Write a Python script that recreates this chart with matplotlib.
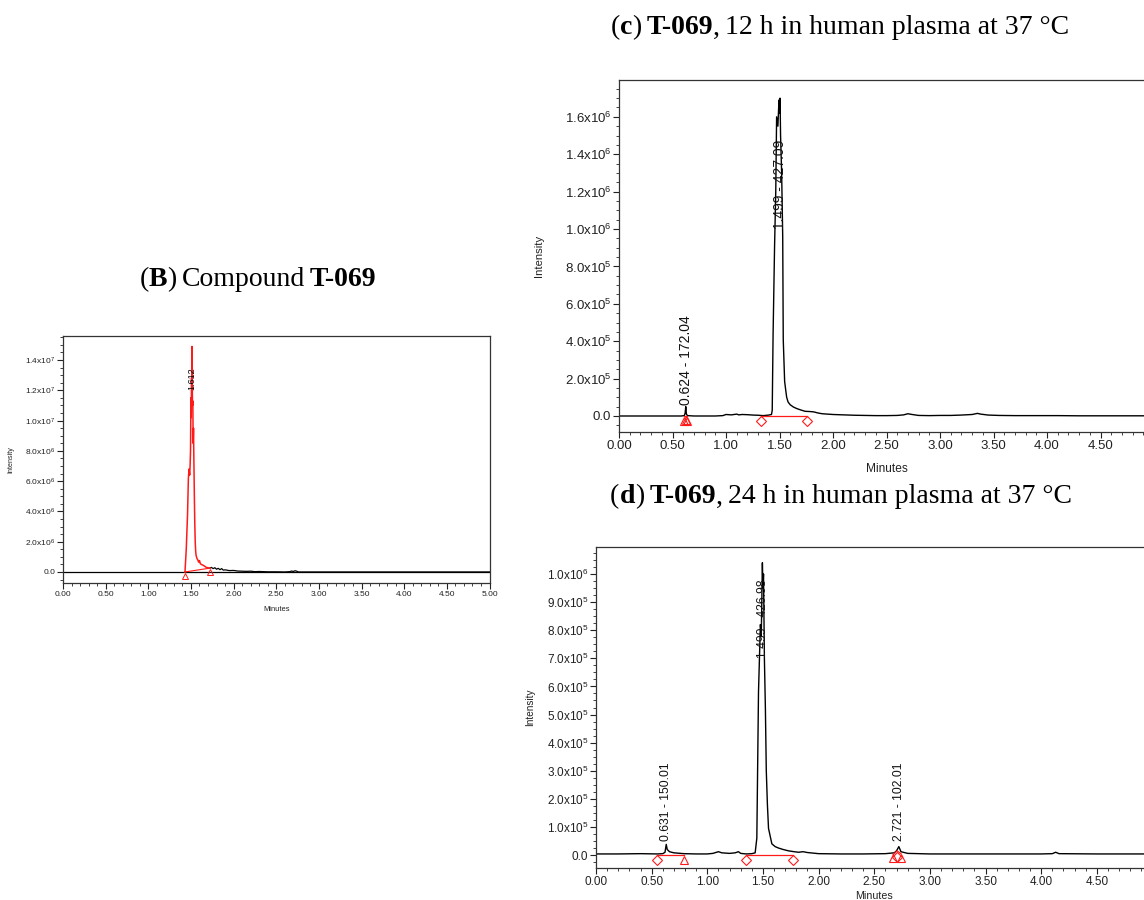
import matplotlib
matplotlib.use("Agg")
import matplotlib.pyplot as plt
from matplotlib.ticker import MultipleLocator, FixedLocator

plt.rcParams['font.family'] = 'Liberation Sans'
plt.rcParams['mathtext.fontset'] = 'custom'
plt.rcParams['mathtext.rm'] = 'Liberation Sans'
plt.rcParams['mathtext.it'] = 'Liberation Sans:italic'
plt.rcParams['mathtext.bf'] = 'Liberation Sans:bold'

W, H = 1144, 900

# ---- (B) compound T-069, intensities in counts ----
b_peak_t = [1.43, 1.445, 1.46, 1.47, 1.478, 1.485, 1.49, 1.495, 1.50, 1.503, 1.507,
            1.51, 1.512, 1.515, 1.518, 1.522, 1.526, 1.53, 1.534, 1.54, 1.545, 1.55,
            1.555, 1.56, 1.57, 1.58, 1.59, 1.60, 1.61, 1.62, 1.64, 1.66, 1.68, 1.70, 1.72]
b_peak_i = [0.0, 1.5e6, 3.8e6, 6.2e6, 6.8e6, 6.4e6, 7.0e6, 8.0e6, 11.5e6, 10.2e6, 12.8e6,
            12.0e6, 14.9e6, 12.5e6, 11.0e6, 11.3e6, 8.5e6, 9.5e6, 7.5e6, 5.0e6, 3.2e6, 2.0e6,
            1.4e6, 1.1e6, 0.9e6, 0.8e6, 0.65e6, 0.75e6, 0.55e6, 0.5e6, 0.45e6, 0.38e6, 0.3e6,
            0.28e6, 0.25e6]
b_tail_t = [1.72, 1.74, 1.76, 1.78, 1.80, 1.82, 1.84, 1.86, 1.88, 1.90, 1.95, 2.00, 2.05,
            2.10, 2.15, 2.20, 2.25, 2.30, 2.40, 2.50, 2.60, 2.66, 2.68, 2.70, 2.72, 2.74,
            2.76, 2.80, 5.00]
b_tail_i = [0.25e6, 0.3e6, 0.22e6, 0.28e6, 0.18e6, 0.24e6, 0.15e6, 0.22e6, 0.12e6, 0.14e6,
            0.09e6, 0.1e6, 0.06e6, 0.05e6, 0.04e6, 0.05e6, 0.02e6, 0.03e6, 0.01e6, 0.01e6,
            0.0, 0.02e6, 0.06e6, 0.03e6, 0.08e6, 0.05e6, 0.0, 0.0, 0.0]
b_base_t = [1.43, 1.72]
b_base_i = [0.0, 0.25e6]
b_tri_t = [1.43, 1.72]
b_tri_i = [-0.3e6, -0.02e6]
b_yticks = [0.0, 2e6, 4e6, 6e6, 8e6, 1.0e7, 1.2e7, 1.4e7]
b_ylabels = ["0.0", "2.0x10$^{6}$", "4.0x10$^{6}$", "6.0x10$^{6}$", "8.0x10$^{6}$",
             "1.0x10$^{7}$", "1.2x10$^{7}$", "1.4x10$^{7}$"]

# ---- (c) 12 h in plasma ----
c_t = [0.00, 0.10, 0.20, 0.30, 0.40, 0.50, 0.58, 0.61, 0.618, 0.624, 0.63, 0.64, 0.70,
       0.80, 0.90, 0.97, 1.00, 1.05, 1.10, 1.12, 1.15, 1.20, 1.25, 1.30, 1.35, 1.40,
       1.425, 1.432, 1.44, 1.454, 1.465, 1.473, 1.485, 1.495, 1.50, 1.505, 1.51, 1.52,
       1.53, 1.535, 1.548, 1.56, 1.567, 1.58, 1.60, 1.63, 1.66, 1.70, 1.74, 1.78, 1.82,
       1.86, 1.90, 1.95, 2.00, 2.10, 2.20, 2.30, 2.40, 2.50, 2.60, 2.66, 2.70, 2.74, 2.80,
       2.90, 3.00, 3.10, 3.20, 3.30, 3.35, 3.38, 3.45, 3.55, 3.70, 3.90, 4.10, 4.30, 4.50,
       4.70, 5.00]
c_i = [0, 0, 0, 0, 0, 0, 0, 2e3, 15e3, 50e3, 10e3, 2e3, 0,
       0, 0, 2e3, 8e3, 6e3, 10e3, 6e3, 8e3, 7e3, 5e3, 4e3, 2e3, 5e3,
       8e3, 30e3, 434e3, 910e3, 1200e3, 1600e3, 1550e3, 1690e3, 1620e3, 1700e3, 1500e3, 1300e3,
       960e3, 410e3, 185e3, 130e3, 100e3, 75e3, 60e3, 48e3, 40e3, 32e3, 25e3, 24e3, 22e3,
       16e3, 12e3, 10e3, 8e3, 6e3, 4e3, 3e3, 2e3, 2e3, 3e3, 6e3, 12e3, 8e3, 3e3,
       2e3, 3e3, 3e3, 5e3, 8e3, 14e3, 10e3, 5e3, 3e3, 2e3, 2e3, 2e3, 1e3, 1e3,
       1e3, 1e3]
c_base_segs = [([0.61, 0.635], [0.0, 0.0]), ([1.326, 1.757], [0.0, 0.0])]
c_tri_t = [0.61, 0.622, 0.635]
c_tri_i = [-25e3, -20e3, -25e3]
c_dia_t = [1.326, 1.757]
c_dia_i = [-28e3, -28e3]
c_peak_labels = [(0.624, 0.06e6, "0.624 - 172.04"), (1.50, 1.0e6, "1.499 - 427.09")]
c_yticks = [0.0, 2e5, 4e5, 6e5, 8e5, 1.0e6, 1.2e6, 1.4e6, 1.6e6]
c_ylabels = ["0.0", "2.0x10$^{5}$", "4.0x10$^{5}$", "6.0x10$^{5}$", "8.0x10$^{5}$",
             "1.0x10$^{6}$", "1.2x10$^{6}$", "1.4x10$^{6}$", "1.6x10$^{6}$"]

# ---- (d) 24 h in plasma ----
d_t = [0.00, 0.20, 0.40, 0.55, 0.60, 0.62, 0.631, 0.64, 0.66, 0.70, 0.79, 0.90, 1.00,
       1.05, 1.10, 1.13, 1.20, 1.25, 1.28, 1.30, 1.35, 1.40, 1.43, 1.445, 1.46, 1.477,
       1.485, 1.495, 1.50, 1.505, 1.513, 1.522, 1.53, 1.54, 1.55, 1.58, 1.61, 1.64, 1.68,
       1.73, 1.78, 1.82, 1.86, 1.90, 2.00, 2.20, 2.40, 2.60, 2.68, 2.70, 2.721, 2.74, 2.80,
       3.00, 3.50, 4.00, 4.10, 4.13, 4.16, 4.50, 5.00]
d_i = [4e3, 4e3, 5e3, 4e3, 5e3, 10e3, 38e3, 20e3, 12e3, 8e3, 5e3, 4e3, 4e3,
       6e3, 12e3, 8e3, 6e3, 8e3, 12e3, 6e3, 4e3, 5e3, 8e3, 60e3, 580e3, 820e3,
       780e3, 1040e3, 950e3, 1000e3, 700e3, 520e3, 300e3, 180e3, 95e3, 40e3, 30e3, 25e3, 20e3,
       15e3, 12e3, 10e3, 12e3, 9e3, 5e3, 4e3, 4e3, 5e3, 8e3, 15e3, 30e3, 12e3, 6e3,
       4e3, 4e3, 4e3, 5e3, 10e3, 5e3, 4e3, 4e3]
d_base_segs = [([0.55, 0.79], [2e3, 2e3]), ([1.35, 1.77], [2e3, 2e3]),
               ([2.67, 2.705, 2.74], [2e3, 15e3, 5e3])]
d_tri_t = [0.79, 2.67, 2.74]
d_tri_i = [-17e3, -12e3, -12e3]
d_dia_t = [0.55, 1.35, 1.77, 2.705]
d_dia_i = [-17e3, -17e3, -17e3, -8e3]
d_peak_labels = [(0.631, 0.5e5, "0.631 - 150.01"), (1.50, 7.0e5, "1.499 - 426.98"),
                 (2.721, 0.5e5, "2.721 - 102.01")]
d_yticks = [0.0, 1e5, 2e5, 3e5, 4e5, 5e5, 6e5, 7e5, 8e5, 9e5, 1.0e6]
d_ylabels = ["0.0", "1.0x10$^{5}$", "2.0x10$^{5}$", "3.0x10$^{5}$", "4.0x10$^{5}$",
             "5.0x10$^{5}$", "6.0x10$^{5}$", "7.0x10$^{5}$", "8.0x10$^{5}$", "9.0x10$^{5}$",
             "1.0x10$^{6}$"]

x_major = [0.0, 0.5, 1.0, 1.5, 2.0, 2.5, 3.0, 3.5, 4.0, 4.5, 5.0]
x_labels = ["0.00", "0.50", "1.00", "1.50", "2.00", "2.50", "3.00", "3.50", "4.00", "4.50", "5.00"]


def px_axes(fig, left, top, right, bottom):
    return fig.add_axes([left / W, 1 - bottom / H, (right - left) / W, (bottom - top) / H])


def style_axes(ax, ylim, yticks, ylabels, fs, ylab_x, xlab_y, n_xlab):
    ax.set_xlim(0, 5.0)
    ax.set_ylim(*ylim)
    ax.xaxis.set_major_locator(FixedLocator(x_major[:n_xlab]))
    ax.set_xticklabels(x_labels[:n_xlab])
    ax.xaxis.set_minor_locator(MultipleLocator(0.1))
    ax.set_yticks(yticks)
    ax.set_yticklabels(ylabels)
    step = yticks[1] - yticks[0]
    ax.yaxis.set_minor_locator(MultipleLocator(step / 4))
    ax.tick_params(which='both', direction='out', colors='#222222', labelsize=fs, pad=1.5)
    ax.tick_params(which='major', length=4, width=0.8)
    ax.tick_params(which='minor', length=2, width=0.6)
    for s in ax.spines.values():
        s.set_linewidth(0.9)
        s.set_color('#333333')
    ax.set_ylabel("Intensity", fontsize=fs * 0.85, color='#222222')
    ax.set_xlabel("Minutes", fontsize=fs * 0.9, color='#222222')
    ax.yaxis.set_label_coords(ylab_x, 0.5)
    ax.xaxis.set_label_coords(0.5, xlab_y)


def rich_text(fig, cx, cy, parts, size):
    # parts: (text, bold, gap_after_px)
    renderer = fig.canvas.get_renderer()
    items = []
    total = 0
    for s, bold, gap in parts:
        t = fig.text(0, 1 - cy / H, s, fontsize=size, family='Liberation Serif',
                     fontweight='bold' if bold else 'normal', va='center', ha='left')
        w = t.get_window_extent(renderer).width
        items.append((t, w, gap))
        total += w + gap
    x = cx - total / 2
    for t, w, gap in items:
        t.set_x(x / W)
        x += w + gap


fig = plt.figure(figsize=(W / 100, H / 100), dpi=100)

# Panel B
axb = px_axes(fig, 63, 336, 489.5, 583)
axb.axhline(0, color='black', lw=0.9)
axb.plot(b_tail_t, b_tail_i, color='black', lw=0.9)
axb.plot(b_peak_t, b_peak_i, color='#ff1a1a', lw=1.1)
axb.plot(b_base_t, b_base_i, color='#ff1a1a', lw=0.8)
axb.plot(b_tri_t, b_tri_i, ls='none', marker='^', ms=4.5, mfc='none', mec='#ff1a1a', mew=0.7)
axb.text(1.512, 1.2e7, "1.612", rotation=90, fontsize=6.5, ha='center', va='bottom')
style_axes(axb, (-0.073e7, 1.559e7), b_yticks, b_ylabels, 6.0, -0.113, -0.093, 11)

# Panel c
axc = px_axes(fig, 619, 80, 1154, 432)
axc.plot(c_t, c_i, color='black', lw=1.0)
for xs, ys in c_base_segs:
    axc.plot(xs, ys, color='#ff1a1a', lw=0.9)
axc.plot(c_tri_t, c_tri_i, ls='none', marker='^', ms=6, mfc='none', mec='#ff1a1a', mew=0.8)
axc.plot(c_dia_t, c_dia_i, ls='none', marker='D', ms=5, mfc='none', mec='#ff1a1a', mew=0.8)
for x, y, s in c_peak_labels:
    axc.text(x, y, s, rotation=90, fontsize=10, ha='center', va='bottom', color='#111111')
style_axes(axc, (-0.0856e6, 1.797e6), c_yticks, c_ylabels, 9.5, -0.14, -0.088, 10)

# Panel d
axd = px_axes(fig, 596, 547, 1152.5, 868)
axd.plot(d_t, d_i, color='black', lw=1.0)
for xs, ys in d_base_segs:
    axd.plot(xs, ys, color='#ff1a1a', lw=0.9)
axd.plot(d_tri_t, d_tri_i, ls='none', marker='^', ms=6, mfc='none', mec='#ff1a1a', mew=0.8)
axd.plot(d_dia_t, d_dia_i, ls='none', marker='D', ms=5, mfc='none', mec='#ff1a1a', mew=0.8)
for x, y, s in d_peak_labels:
    axd.text(x, y, s, rotation=90, fontsize=8.7, ha='center', va='bottom', color='#111111')
style_axes(axd, (-0.46e5, 10.96e5), d_yticks, d_ylabels, 8.5, -0.11, -0.072, 10)

# Titles
rich_text(fig, 258, 280, [("(", False, 0), ("B", True, 0), (")", False, 5),
                          ("Compound", False, 5), ("T-069", True, 0)], 20)
rich_text(fig, 840, 28, [("(", False, 0), ("c", True, 0), (")", False, 5),
                         ("T-069", True, 0), (",", False, 5),
                         ("12 h in human plasma at 37 °C", False, 0)], 20)
rich_text(fig, 841, 497, [("(", False, 0), ("d", True, 0), (")", False, 5),
                          ("T-069", True, 0), (",", False, 5),
                          ("24 h in human plasma at 37 °C", False, 0)], 20)

fig.savefig("out.png", dpi=100)
